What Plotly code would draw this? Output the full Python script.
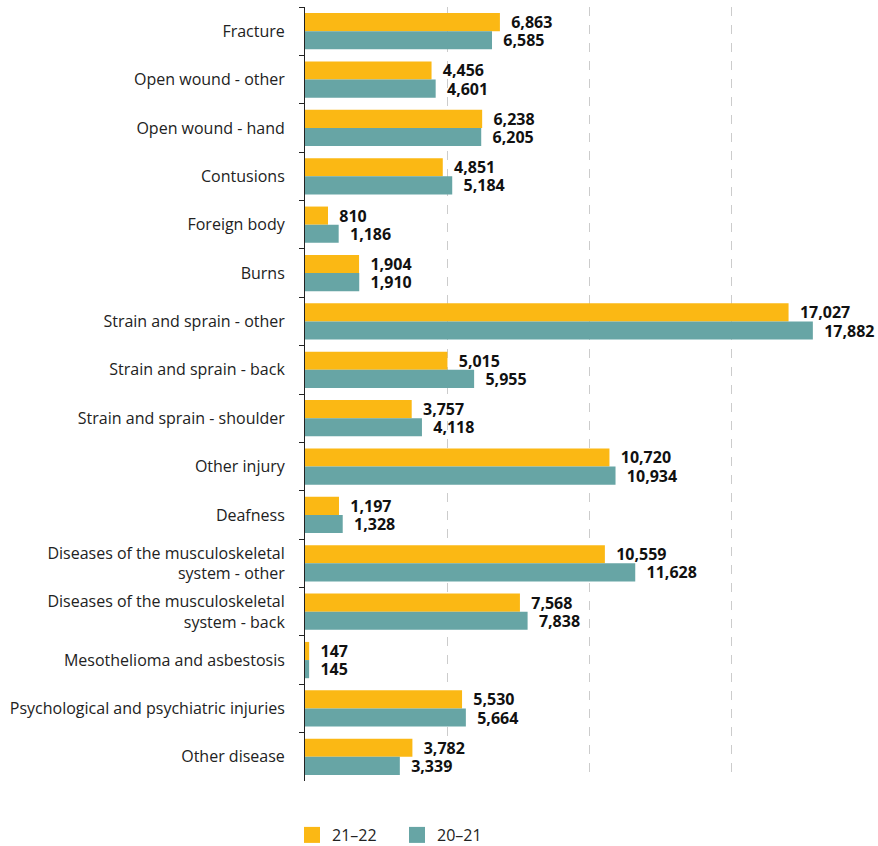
import plotly.graph_objects as go

categories = [
    "Fracture", "Open wound - other", "Open wound - hand", "Contusions",
    "Foreign body", "Burns", "Strain and sprain - other", "Strain and sprain - back",
    "Strain and sprain - shoulder", "Other injury", "Deafness",
    "Diseases of the musculoskeletal<br>system - other",
    "Diseases of the musculoskeletal<br>system - back",
    "Mesothelioma and asbestosis",
    "Psychological and psychiatric injuries", "Other disease",
]
series_names = ["21\u201322", "20\u201321"]
y2122 = [6863, 4456, 6238, 4851, 810, 1904, 17027, 5015, 3757, 10720, 1197, 10559, 7568, 147, 5530, 3782]
y2021 = [6585, 4601, 6205, 5184, 1186, 1910, 17882, 5955, 4118, 10934, 1328, 11628, 7838, 145, 5664, 3339]
colors = ["#FBB814", "#67A5A5"]

FONT = "Open Sans"
fig = go.Figure()
for name, vals, color in zip(series_names, [y2122, y2021], colors):
    fig.add_trace(go.Bar(
        name=name, y=categories, x=vals, orientation="h",
        marker=dict(color=color, line=dict(width=0)),
        text=[f"\u00a0\u00a0{v:,}" for v in vals],
        textposition="outside", cliponaxis=False, constraintext="none",
        textfont=dict(family=FONT, size=16, color="#111111", weight="bold"),
        showlegend=False,
    ))
# legend entries with larger square swatches
for name, color in zip(series_names, colors):
    fig.add_trace(go.Scatter(
        name=name, x=[None], y=[None], mode="markers",
        marker=dict(symbol="square", size=18, color=color),
        showlegend=True,
    ))

fig.update_layout(
    width=878, height=846,
    margin=dict(l=305, r=5, t=7, b=65),
    barmode="group", bargap=0.25, bargroupgap=0,
    plot_bgcolor="white", paper_bgcolor="white",
    font=dict(family=FONT, size=16, color="#222222"),
    showlegend=True,
    legend=dict(orientation="h", x=292 / 878, xanchor="left", xref="container",
                y=11 / 846, yanchor="middle", yref="container",
                font=dict(size=16), entrywidth=60, itemsizing="trace",
                traceorder="normal", bgcolor="rgba(0,0,0,0)"),
    xaxis=dict(range=[0, 20000], showticklabels=False, showgrid=True,
               gridcolor="#cccccc", griddash="dash", gridwidth=1,
               dtick=5000, zeroline=False, showline=False, fixedrange=True),
    yaxis=dict(autorange="reversed", showline=True, linecolor="#222222", linewidth=1,
               ticks="outside", ticklen=5, tickcolor="#222222", tickson="boundaries",
               ticklabelstandoff=16, showgrid=False),
)
fig.write_html("out.html")
